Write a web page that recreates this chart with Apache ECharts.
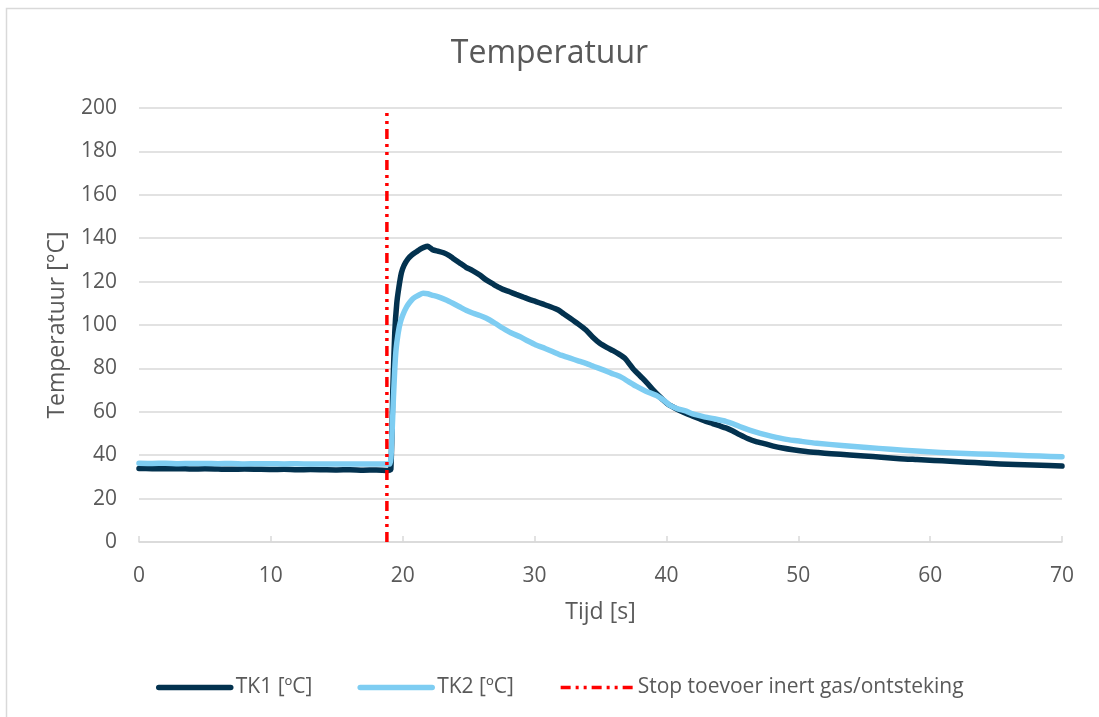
<!DOCTYPE html>
<html>
<head>
<meta charset="utf-8">
<title>Temperatuur</title>
<script src="https://cdn.jsdelivr.net/npm/echarts@6/dist/echarts.min.js"></script>
<style>
  html, body { margin: 0; padding: 0; background: #ffffff; }
  #chart { width: 1099px; height: 717px; }
</style>
</head>
<body>
<div id="chart"></div>
<script>
// Thermocouple TK1: time [s] and temperature [°C]
const tk1Time = [0, 1, 2, 3, 4, 5, 6, 7, 8, 9, 10, 11, 12, 13, 14, 15, 16, 17, 18, 18.9,
  19.1, 19.25, 19.4, 19.55, 19.7, 19.9, 20.1, 20.4, 20.7, 21.05, 21.3, 21.6, 21.9, 22.1, 22.3,
  22.7, 23.1, 23.5, 23.8, 24.3, 24.8, 25.3, 25.85, 26.3, 26.85, 27.3, 27.6, 28.1, 28.6, 29.1,
  29.6, 30.1, 30.6, 31.2, 31.8, 32.2, 32.7, 33.3, 33.9, 34.4, 34.95, 35.5, 35.95, 36.4, 36.85,
  37.2, 37.5, 37.9, 38.2, 38.6, 39.0, 39.4, 39.75, 40.1, 40.5, 41.0, 41.5, 42.0, 42.5, 43.0,
  43.5, 44.0, 44.55, 45.0, 45.55, 46.2, 46.8, 47.5, 48.1, 48.8, 49.6, 50.6, 51.5, 52.5, 53.9,
  55.0, 56.3, 57.7, 59.0, 60.3, 61.5, 62.8, 64.0, 65.3, 66.5, 67.8, 69.0, 70];
const tk1Temp = [33.9, 33.8, 33.7, 33.8, 33.6, 33.7, 33.6, 33.5, 33.6, 33.5, 33.4, 33.5, 33.3, 33.4, 33.3, 33.2, 33.3, 33.1, 33.2, 33.0,
  33.5, 70, 97, 110, 117, 124, 127.5, 130.5, 132.3, 133.8, 134.9, 135.8, 136.3, 135.5, 134.6,
  134.0, 133.3, 132.1, 130.8, 128.7, 126.6, 125.1, 123.0, 120.9, 118.9, 117.3, 116.4, 115.3, 114.1, 113.0,
  111.8, 110.8, 109.7, 108.4, 106.9, 105.2, 103.1, 100.5, 97.7, 94.5, 91.6, 89.6, 88.2, 86.6, 84.7,
  82.0, 79.6, 77.2, 75.4, 72.8, 70.0, 67.5, 65.4, 63.6, 62.2, 60.6, 59.2, 58.0, 56.8, 55.6,
  54.6, 53.6, 52.5, 51.3, 49.5, 47.6, 46.3, 45.2, 44.2, 43.3, 42.5, 41.7, 41.2, 40.7, 40.1,
  39.6, 39.1, 38.4, 38.0, 37.6, 37.2, 36.8, 36.4, 36.0, 35.7, 35.5, 35.2, 35.0];

// Thermocouple TK2: time [s] and temperature [°C]
const tk2Time = [0, 1, 2, 3, 4, 5, 6, 7, 8, 9, 10, 11, 12, 13, 14, 15, 16, 17, 18, 19.0,
  19.15, 19.3, 19.4, 19.5, 19.65, 19.8, 20.0, 20.3, 20.55, 20.8, 21.2, 21.55, 21.9, 22.2, 22.7,
  23.3, 23.8, 24.3, 24.8, 25.35, 25.85, 26.35, 27.0, 27.6, 28.2, 28.9, 29.5, 30.1, 30.8, 31.4,
  32.0, 32.7, 33.3, 33.9, 34.5, 35.2, 35.8, 36.5, 37.1, 37.7, 38.4, 39.25, 39.8, 40.26, 40.8,
  41.5, 42.0, 42.8, 43.6, 44.55, 45.1, 45.55, 46.3, 47.1, 48.0, 49.1, 50.2, 51.4, 53.3, 55.2,
  57.0, 58.95, 60.8, 62.7, 64.6, 66.5, 68.3, 70];
const tk2Temp = [36.3, 36.2, 36.3, 36.1, 36.2, 36.2, 36.1, 36.2, 36.0, 36.1, 36.1, 36.0, 36.1, 35.9, 36.0, 36.0, 35.9, 36.0, 35.9, 35.9,
  45, 67, 80, 89, 96, 100.8, 104.5, 108.4, 110.6, 112.3, 113.7, 114.6, 114.4, 113.8, 113.0,
  111.5, 110.0, 108.4, 106.8, 105.4, 104.4, 103.1, 100.8, 98.5, 96.4, 94.6, 92.6, 90.8, 89.2, 87.7,
  86.1, 84.7, 83.5, 82.3, 80.9, 79.3, 77.8, 76.2, 74.0, 71.8, 69.6, 67.5, 65.3, 63.0, 61.5,
  60.3, 59.0, 57.8, 56.8, 55.5, 54.4, 53.2, 51.6, 50.1, 48.7, 47.3, 46.4, 45.5, 44.5, 43.6,
  42.7, 41.9, 41.3, 40.8, 40.4, 40.0, 39.6, 39.3];

// Moment the inert gas supply stops / ignition [s], spanning the full y range
const stopTime = [18.8, 18.8];
const stopTemp = [0, 200];

const seriesNames = ['TK1 [ºC]', 'TK2 [ºC]', 'Stop toevoer inert gas/ontsteking'];

const zip = (xs, ys) => xs.map((x, i) => [x, ys[i]]);

const textColor = '#595959';
const gridColor = '#d9d9d9';
const font = '"Open Sans", "Noto Sans", sans-serif';

const tk1Color = '#03324f';
const tk2Color = '#7ecdf2';
const stopColor = '#ff0000';
const stopDash = [10, 5, 3, 5, 3, 5];

const chart = echarts.init(document.getElementById('chart'), null, { renderer: 'canvas' });

chart.setOption({
  animation: false,
  backgroundColor: '#ffffff',
  textStyle: { fontFamily: font, color: textColor },
  graphic: [{
    type: 'rect',
    shape: { x: 6.5, y: 8.5, width: 1200, height: 800 },
    style: { fill: 'none', stroke: gridColor, lineWidth: 1.5 },
    silent: true,
    z: -10
  }],
  title: {
    text: 'Temperatuur',
    left: 'center',
    top: 33,
    textStyle: { fontFamily: font, fontSize: 32, fontWeight: 'normal', color: textColor }
  },
  legend: {
    left: 151,
    top: 672,
    itemWidth: 72,
    itemHeight: 14,
    itemGap: 45,
    itemStyle: { opacity: 0 },
    textStyle: { fontFamily: font, fontSize: 21, color: textColor },
    data: [
      { name: seriesNames[0], lineStyle: { width: 5.5, color: tk1Color, cap: 'round' } },
      { name: seriesNames[1], lineStyle: { width: 5.5, color: tk2Color, cap: 'round' } },
      { name: seriesNames[2], lineStyle: { width: 3.5, color: stopColor, type: stopDash } }
    ]
  },
  grid: { left: 139, right: 37, top: 108, bottom: 175, containLabel: false },
  xAxis: {
    type: 'value',
    min: 0,
    max: 70,
    interval: 10,
    name: 'Tijd [s]',
    nameLocation: 'middle',
    nameGap: 59,
    nameTextStyle: { fontFamily: font, fontSize: 23, color: textColor },
    axisLine: { show: true, lineStyle: { color: gridColor, width: 1.5 } },
    axisTick: { show: true, inside: true, length: 6, lineStyle: { color: gridColor, width: 1.5 } },
    axisLabel: { fontFamily: font, fontSize: 21, color: textColor, margin: 24 },
    splitLine: { show: false }
  },
  yAxis: {
    type: 'value',
    min: 0,
    max: 200,
    interval: 20,
    name: 'Temperatuur [°C]',
    nameLocation: 'middle',
    nameGap: 70,
    nameTextStyle: { fontFamily: font, fontSize: 23, color: textColor },
    axisLine: { show: false },
    axisTick: { show: false },
    axisLabel: { fontFamily: font, fontSize: 21, color: textColor, margin: 22 },
    splitLine: { show: true, lineStyle: { color: gridColor, width: 1.5 } }
  },
  series: [
    {
      name: seriesNames[0],
      type: 'line',
      data: zip(tk1Time, tk1Temp),
      symbol: 'none',
      smooth: 0.2,
      lineStyle: { color: tk1Color, width: 5.5, cap: 'round', join: 'round' },
      itemStyle: { color: tk1Color },
      z: 2
    },
    {
      name: seriesNames[1],
      type: 'line',
      data: zip(tk2Time, tk2Temp),
      symbol: 'none',
      smooth: 0.2,
      lineStyle: { color: tk2Color, width: 5.5, cap: 'round', join: 'round' },
      itemStyle: { color: tk2Color },
      z: 3
    },
    {
      name: seriesNames[2],
      type: 'line',
      data: zip(stopTime, stopTemp),
      symbol: 'none',
      lineStyle: { color: stopColor, width: 3.5, type: stopDash },
      itemStyle: { color: stopColor },
      z: 4
    }
  ]
});
</script>
</body>
</html>
